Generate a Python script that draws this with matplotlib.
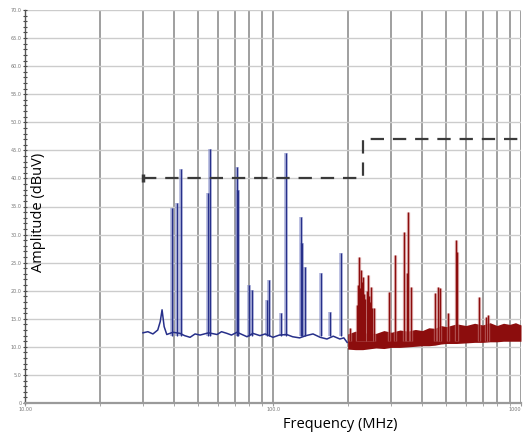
import numpy as np
import matplotlib
matplotlib.use('Agg')
import matplotlib.pyplot as plt

# limit line (MHz, dBuV)
limit_freq = [30, 230, 230, 1000]
limit_amp = [40, 40, 47, 47]

# blue trace noise floor (MHz, dBuV)
blue_floor_freq = [29.9, 31.3, 32.8, 34.3, 35.1, 35.7, 36.4, 37.3, 39.5, 42.2, 44.0, 46.3, 48.5,
                   50.8, 55.0, 59.5, 62.0, 65.2, 68.0, 71.6, 75.0, 78.6, 83.0, 88.6, 93.0,
                   100, 106, 113.5, 120, 128, 136, 145, 155, 165, 175, 186, 193, 199]
blue_floor_amp = [12.5, 12.7, 12.3, 13.0, 14.5, 16.6, 13.6, 12.2, 12.6, 12.4, 12.0, 11.7, 12.3,
                  12.1, 12.5, 12.2, 12.7, 12.4, 12.1, 12.6, 12.2, 11.8, 12.4, 12.0, 12.3,
                  11.7, 12.1, 12.2, 11.8, 11.6, 12.0, 12.3, 11.7, 11.4, 11.9, 11.4, 11.6, 10.8]

# blue peaks
blue_peak_freq = [39.1, 41.0, 42.6, 54.7, 55.7, 71.5, 72.5, 80.0, 82.3, 94.6, 96.3,
                  107.7, 112.8, 129.6, 131.5, 134.6, 156, 170, 188]
blue_peak_amp = [34.7, 35.6, 41.7, 37.4, 45.2, 42.0, 38.0, 21.0, 20.1, 18.3, 21.9,
                 16.0, 44.5, 33.1, 28.5, 24.2, 23.2, 16.2, 26.7]

# red trace noise band
red_band_freq = [200, 215, 230, 260, 280, 300, 325, 350, 375, 400, 425, 450, 475, 500, 550,
                 600, 650, 700, 750, 800, 850, 900, 950, 1000]
red_band_lo = [9.6, 9.5, 9.5, 9.8, 9.7, 9.9, 9.9, 10.0, 10.1, 10.2, 10.2, 10.3, 10.5, 10.6,
               10.6, 10.7, 10.8, 10.8, 10.9, 10.9, 11.0, 11.0, 11.0, 11.0]
red_band_hi = [12.3, 12.8, 12.5, 12.4, 12.9, 12.6, 13.0, 12.8, 13.1, 12.9, 13.4, 13.3, 13.8,
               13.6, 14.1, 13.8, 14.2, 13.9, 14.3, 13.8, 14.2, 14.0, 14.3, 13.9]

# red peaks
red_peak_freq = [205, 219, 221, 222, 224, 226, 228, 230, 233, 236, 239, 241, 244, 246, 248, 251,
                 255, 294, 310, 337, 348, 350, 360, 450, 463, 471, 508, 547, 552, 677, 723, 736]
red_peak_amp = [13.4, 17.5, 21.0, 26.0, 20.5, 23.7, 21.5, 22.4, 19.5, 18.5, 20.0, 22.8, 19.0,
                18.0, 20.7, 17.0, 16.9, 19.8, 26.4, 30.5, 23.2, 34.0, 20.7, 19.6, 20.7, 20.5,
                16.0, 29.0, 26.9, 18.9, 15.3, 15.7]

blue = '#27308a'
red = '#8c0d0d'

fig = plt.figure(figsize=(5.25, 4.33), dpi=100)
ax = fig.add_axes([25 / 525, 1 - 403 / 433, 496 / 525, 393 / 433])

ax.set_xscale('log')
ax.set_xlim(10, 1000)
ax.set_ylim(0, 70)

# grid
ax.set_yticks(np.arange(0, 71, 5))
ax.set_yticks(np.arange(0, 71, 1), minor=True)
ax.set_yticklabels(['0'] + ['%.1f' % v for v in np.arange(5, 71, 5)])
ax.grid(True, axis='y', which='major', color='#cccccc', lw=1.0)
ax.grid(True, axis='x', which='both', color='#8f8f8f', lw=1.2)
ax.set_xticks([10, 100, 1000])
xlabels = ax.set_xticklabels(['10.00', '100.0', '1000'])
xlabels[-1].set_ha('right')
ax.set_axisbelow(True)

for s in ['top', 'right']:
    ax.spines[s].set_visible(False)
ax.spines['left'].set_color('#555555')
ax.spines['left'].set_linewidth(1.0)
ax.spines['bottom'].set_color('#9a9a9a')
ax.spines['bottom'].set_linewidth(1.6)

ax.tick_params(axis='y', which='major', labelsize=3.5, labelcolor='#777777', length=3,
               direction='inout', color='#444444', pad=1)
ax.tick_params(axis='y', which='minor', length=2.5, direction='inout', color='#444444', width=0.8)
ax.tick_params(axis='x', which='both', labelsize=3.5, labelcolor='#777777', length=2,
               color='#999999', pad=1)

# blue trace
ax.vlines(blue_peak_freq, 12, blue_peak_amp, color='#7a82c4', lw=2.6, alpha=0.6)
ax.vlines(blue_peak_freq, 12, blue_peak_amp, color=blue, lw=0.9)
ax.plot(blue_floor_freq, blue_floor_amp, color=blue, lw=1.1)

# red trace
ax.fill_between(red_band_freq, red_band_lo, red_band_hi, color=red, lw=0)
ax.vlines(red_peak_freq, 11, red_peak_amp, color='#d08a8a', lw=2.4, alpha=0.6)
ax.vlines(red_peak_freq, 11, red_peak_amp, color=red, lw=1.0)

# limit line
ax.plot(limit_freq, limit_amp, color='#3a3a3a', lw=1.6, dashes=(6, 4),
        marker='|', markevery=[0], ms=6, mew=2.5)

fig.text(38 / 525, 1 - 212 / 433, 'Amplitude (dBuV)', rotation=90, ha='center', va='center',
         fontsize=10.5, family='Open Sans')
fig.text(340 / 525, 1 - 424 / 433, 'Frequency (MHz)', ha='center', va='center',
         fontsize=10.5, family='Open Sans')

fig.savefig('out.png', dpi=100)
